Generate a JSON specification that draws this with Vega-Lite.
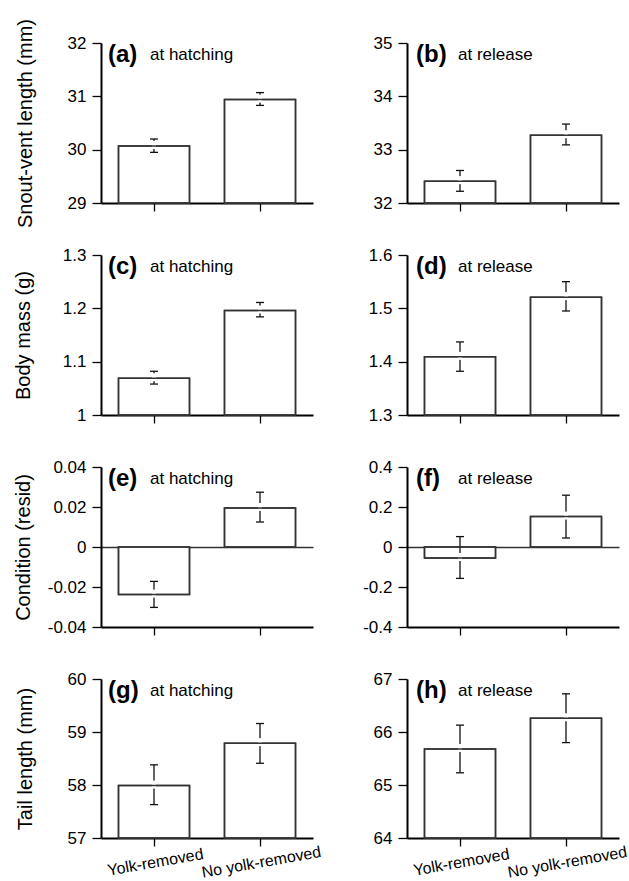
{
"$schema": "https://vega.github.io/schema/vega-lite/v6.json",
"padding": {"left": 13, "top": 18, "right": 3, "bottom": 0},
"background": "white",
"bounds": "flush",
"columns": 2,
"spacing": {"row": 52, "column": 94},
"datasets": {
 "bars": [
  {"panel": "a", "group": "Yolk-removed", "mean": 30.07, "lo": 29.95, "hi": 30.2},
  {"panel": "a", "group": "No yolk-removed", "mean": 30.94, "lo": 30.83, "hi": 31.07},
  {"panel": "b", "group": "Yolk-removed", "mean": 32.41, "lo": 32.22, "hi": 32.61},
  {"panel": "b", "group": "No yolk-removed", "mean": 33.27, "lo": 33.09, "hi": 33.48},
  {"panel": "c", "group": "Yolk-removed", "mean": 1.069, "lo": 1.058, "hi": 1.082},
  {"panel": "c", "group": "No yolk-removed", "mean": 1.196, "lo": 1.184, "hi": 1.211},
  {"panel": "d", "group": "Yolk-removed", "mean": 1.409, "lo": 1.382, "hi": 1.437},
  {"panel": "d", "group": "No yolk-removed", "mean": 1.521, "lo": 1.495, "hi": 1.55},
  {"panel": "e", "group": "Yolk-removed", "mean": -0.0238, "lo": -0.0302, "hi": -0.0172},
  {"panel": "e", "group": "No yolk-removed", "mean": 0.0195, "lo": 0.0125, "hi": 0.0274},
  {"panel": "f", "group": "Yolk-removed", "mean": -0.055, "lo": -0.157, "hi": 0.052},
  {"panel": "f", "group": "No yolk-removed", "mean": 0.152, "lo": 0.045, "hi": 0.259},
  {"panel": "g", "group": "Yolk-removed", "mean": 57.99, "lo": 57.63, "hi": 58.38},
  {"panel": "g", "group": "No yolk-removed", "mean": 58.79, "lo": 58.41, "hi": 59.16},
  {"panel": "h", "group": "Yolk-removed", "mean": 65.68, "lo": 65.23, "hi": 66.13},
  {"panel": "h", "group": "No yolk-removed", "mean": 66.26, "lo": 65.8, "hi": 66.72}
 ],
 "tags": [
  {"panel": "a", "tag": "(a)", "stage": "at hatching"},
  {"panel": "b", "tag": "(b)", "stage": "at release"},
  {"panel": "c", "tag": "(c)", "stage": "at hatching"},
  {"panel": "d", "tag": "(d)", "stage": "at release"},
  {"panel": "e", "tag": "(e)", "stage": "at hatching"},
  {"panel": "f", "tag": "(f)", "stage": "at release"},
  {"panel": "g", "tag": "(g)", "stage": "at hatching"},
  {"panel": "h", "tag": "(h)", "stage": "at release"}
 ]
},
"concat": [
 {"width": 212, "height": 160, "layer": [
  {"data": {"name": "bars"}, "transform": [{"filter": "datum.panel == 'a'"}], "mark": {"type": "bar", "fill": "#fff", "stroke": "#333", "strokeWidth": 1.5, "width": {"band": 0.67}},
   "encoding": {"x": {"field": "group", "type": "nominal", "scale": {"domain": ["Yolk-removed", "No yolk-removed"], "paddingInner": 0, "paddingOuter": 0}, "axis": {"labels": false, "title": null}},
    "y": {"field": "mean", "type": "quantitative", "scale": {"domain": [29, 32], "nice": false, "zero": false}, "axis": {"values": [29, 30, 31, 32], "format": "~g", "labelOverlap": false, "labelExpr": "replace(datum.label, '\u2212', '-')", "title": "Snout-vent length (mm)", "titlePadding": 32}},
    "y2": {"datum": 29}}},
  {"data": {"name": "bars"}, "transform": [{"filter": "datum.panel == 'a'"}], "mark": {"type": "rule", "color": "#111", "strokeWidth": 1.3}, "encoding": {"x": {"field": "group", "type": "nominal"}, "y": {"field": "lo", "type": "quantitative"}, "y2": {"field": "hi"}}},
  {"data": {"name": "bars"}, "transform": [{"filter": "datum.panel == 'a'"}], "mark": {"type": "tick", "orient": "horizontal", "color": "#111", "opacity": 1, "size": 8, "thickness": 1.3}, "encoding": {"x": {"field": "group", "type": "nominal"}, "y": {"field": "lo", "type": "quantitative"}}},
  {"data": {"name": "bars"}, "transform": [{"filter": "datum.panel == 'a'"}], "mark": {"type": "tick", "orient": "horizontal", "color": "#111", "opacity": 1, "size": 8, "thickness": 1.3}, "encoding": {"x": {"field": "group", "type": "nominal"}, "y": {"field": "hi", "type": "quantitative"}}},
  {"data": {"name": "bars"}, "transform": [{"filter": "datum.panel == 'a'"}], "mark": {"type": "tick", "orient": "horizontal", "color": "#fff", "opacity": 1, "size": 4, "thickness": 8, "yOffset": -1}, "encoding": {"x": {"field": "group", "type": "nominal"}, "y": {"field": "mean", "type": "quantitative"}}},
  {"data": {"name": "bars"}, "transform": [{"filter": "datum.panel == 'a'"}], "mark": {"type": "bar", "fillOpacity": 0, "stroke": "#333", "strokeWidth": 1.5, "width": {"band": 0.67}}, "encoding": {"x": {"field": "group", "type": "nominal"}, "y": {"field": "mean", "type": "quantitative"}, "y2": {"datum": 29}}},
  {"data": {"name": "tags"}, "transform": [{"filter": "datum.panel == 'a'"}], "mark": {"type": "text", "font": "Liberation Sans", "fontWeight": "bold", "fontSize": 24, "align": "left", "baseline": "middle", "dx": -46, "dy": 12, "color": "#000"}, "encoding": {"x": {"datum": "Yolk-removed", "type": "nominal"}, "y": {"datum": 32, "type": "quantitative"}, "text": {"field": "tag"}}},
  {"data": {"name": "tags"}, "transform": [{"filter": "datum.panel == 'a'"}], "mark": {"type": "text", "font": "Liberation Sans", "fontSize": 17, "align": "left", "baseline": "middle", "dx": -4, "dy": 12, "color": "#000"}, "encoding": {"x": {"datum": "Yolk-removed", "type": "nominal"}, "y": {"datum": 32, "type": "quantitative"}, "text": {"field": "stage"}}}
 ]},
 {"width": 212, "height": 160, "layer": [
  {"data": {"name": "bars"}, "transform": [{"filter": "datum.panel == 'b'"}], "mark": {"type": "bar", "fill": "#fff", "stroke": "#333", "strokeWidth": 1.5, "width": {"band": 0.67}},
   "encoding": {"x": {"field": "group", "type": "nominal", "scale": {"domain": ["Yolk-removed", "No yolk-removed"], "paddingInner": 0, "paddingOuter": 0}, "axis": {"labels": false, "title": null}},
    "y": {"field": "mean", "type": "quantitative", "scale": {"domain": [32, 35], "nice": false, "zero": false}, "axis": {"values": [32, 33, 34, 35], "format": "~g", "labelOverlap": false, "labelExpr": "replace(datum.label, '\u2212', '-')", "title": null}},
    "y2": {"datum": 32}}},
  {"data": {"name": "bars"}, "transform": [{"filter": "datum.panel == 'b'"}], "mark": {"type": "rule", "color": "#111", "strokeWidth": 1.3}, "encoding": {"x": {"field": "group", "type": "nominal"}, "y": {"field": "lo", "type": "quantitative"}, "y2": {"field": "hi"}}},
  {"data": {"name": "bars"}, "transform": [{"filter": "datum.panel == 'b'"}], "mark": {"type": "tick", "orient": "horizontal", "color": "#111", "opacity": 1, "size": 8, "thickness": 1.3}, "encoding": {"x": {"field": "group", "type": "nominal"}, "y": {"field": "lo", "type": "quantitative"}}},
  {"data": {"name": "bars"}, "transform": [{"filter": "datum.panel == 'b'"}], "mark": {"type": "tick", "orient": "horizontal", "color": "#111", "opacity": 1, "size": 8, "thickness": 1.3}, "encoding": {"x": {"field": "group", "type": "nominal"}, "y": {"field": "hi", "type": "quantitative"}}},
  {"data": {"name": "bars"}, "transform": [{"filter": "datum.panel == 'b'"}], "mark": {"type": "tick", "orient": "horizontal", "color": "#fff", "opacity": 1, "size": 4, "thickness": 8, "yOffset": -1}, "encoding": {"x": {"field": "group", "type": "nominal"}, "y": {"field": "mean", "type": "quantitative"}}},
  {"data": {"name": "bars"}, "transform": [{"filter": "datum.panel == 'b'"}], "mark": {"type": "bar", "fillOpacity": 0, "stroke": "#333", "strokeWidth": 1.5, "width": {"band": 0.67}}, "encoding": {"x": {"field": "group", "type": "nominal"}, "y": {"field": "mean", "type": "quantitative"}, "y2": {"datum": 32}}},
  {"data": {"name": "tags"}, "transform": [{"filter": "datum.panel == 'b'"}], "mark": {"type": "text", "font": "Liberation Sans", "fontWeight": "bold", "fontSize": 24, "align": "left", "baseline": "middle", "dx": -44, "dy": 12, "color": "#000"}, "encoding": {"x": {"datum": "Yolk-removed", "type": "nominal"}, "y": {"datum": 35, "type": "quantitative"}, "text": {"field": "tag"}}},
  {"data": {"name": "tags"}, "transform": [{"filter": "datum.panel == 'b'"}], "mark": {"type": "text", "font": "Liberation Sans", "fontSize": 17, "align": "left", "baseline": "middle", "dx": -2, "dy": 12, "color": "#000"}, "encoding": {"x": {"datum": "Yolk-removed", "type": "nominal"}, "y": {"datum": 35, "type": "quantitative"}, "text": {"field": "stage"}}}
 ]},
 {"width": 212, "height": 160, "layer": [
  {"data": {"name": "bars"}, "transform": [{"filter": "datum.panel == 'c'"}], "mark": {"type": "bar", "fill": "#fff", "stroke": "#333", "strokeWidth": 1.5, "width": {"band": 0.67}},
   "encoding": {"x": {"field": "group", "type": "nominal", "scale": {"domain": ["Yolk-removed", "No yolk-removed"], "paddingInner": 0, "paddingOuter": 0}, "axis": {"labels": false, "title": null}},
    "y": {"field": "mean", "type": "quantitative", "scale": {"domain": [1, 1.3], "nice": false, "zero": false}, "axis": {"values": [1, 1.1, 1.2, 1.3], "format": "~g", "labelOverlap": false, "labelExpr": "replace(datum.label, '\u2212', '-')", "title": "Body mass (g)", "titlePadding": 29}},
    "y2": {"datum": 1}}},
  {"data": {"name": "bars"}, "transform": [{"filter": "datum.panel == 'c'"}], "mark": {"type": "rule", "color": "#111", "strokeWidth": 1.3}, "encoding": {"x": {"field": "group", "type": "nominal"}, "y": {"field": "lo", "type": "quantitative"}, "y2": {"field": "hi"}}},
  {"data": {"name": "bars"}, "transform": [{"filter": "datum.panel == 'c'"}], "mark": {"type": "tick", "orient": "horizontal", "color": "#111", "opacity": 1, "size": 8, "thickness": 1.3}, "encoding": {"x": {"field": "group", "type": "nominal"}, "y": {"field": "lo", "type": "quantitative"}}},
  {"data": {"name": "bars"}, "transform": [{"filter": "datum.panel == 'c'"}], "mark": {"type": "tick", "orient": "horizontal", "color": "#111", "opacity": 1, "size": 8, "thickness": 1.3}, "encoding": {"x": {"field": "group", "type": "nominal"}, "y": {"field": "hi", "type": "quantitative"}}},
  {"data": {"name": "bars"}, "transform": [{"filter": "datum.panel == 'c'"}], "mark": {"type": "tick", "orient": "horizontal", "color": "#fff", "opacity": 1, "size": 4, "thickness": 8, "yOffset": -1}, "encoding": {"x": {"field": "group", "type": "nominal"}, "y": {"field": "mean", "type": "quantitative"}}},
  {"data": {"name": "bars"}, "transform": [{"filter": "datum.panel == 'c'"}], "mark": {"type": "bar", "fillOpacity": 0, "stroke": "#333", "strokeWidth": 1.5, "width": {"band": 0.67}}, "encoding": {"x": {"field": "group", "type": "nominal"}, "y": {"field": "mean", "type": "quantitative"}, "y2": {"datum": 1}}},
  {"data": {"name": "tags"}, "transform": [{"filter": "datum.panel == 'c'"}], "mark": {"type": "text", "font": "Liberation Sans", "fontWeight": "bold", "fontSize": 24, "align": "left", "baseline": "middle", "dx": -46, "dy": 12, "color": "#000"}, "encoding": {"x": {"datum": "Yolk-removed", "type": "nominal"}, "y": {"datum": 1.3, "type": "quantitative"}, "text": {"field": "tag"}}},
  {"data": {"name": "tags"}, "transform": [{"filter": "datum.panel == 'c'"}], "mark": {"type": "text", "font": "Liberation Sans", "fontSize": 17, "align": "left", "baseline": "middle", "dx": -4, "dy": 12, "color": "#000"}, "encoding": {"x": {"datum": "Yolk-removed", "type": "nominal"}, "y": {"datum": 1.3, "type": "quantitative"}, "text": {"field": "stage"}}}
 ]},
 {"width": 212, "height": 160, "layer": [
  {"data": {"name": "bars"}, "transform": [{"filter": "datum.panel == 'd'"}], "mark": {"type": "bar", "fill": "#fff", "stroke": "#333", "strokeWidth": 1.5, "width": {"band": 0.67}},
   "encoding": {"x": {"field": "group", "type": "nominal", "scale": {"domain": ["Yolk-removed", "No yolk-removed"], "paddingInner": 0, "paddingOuter": 0}, "axis": {"labels": false, "title": null}},
    "y": {"field": "mean", "type": "quantitative", "scale": {"domain": [1.3, 1.6], "nice": false, "zero": false}, "axis": {"values": [1.3, 1.4, 1.5, 1.6], "format": "~g", "labelOverlap": false, "labelExpr": "replace(datum.label, '\u2212', '-')", "title": null}},
    "y2": {"datum": 1.3}}},
  {"data": {"name": "bars"}, "transform": [{"filter": "datum.panel == 'd'"}], "mark": {"type": "rule", "color": "#111", "strokeWidth": 1.3}, "encoding": {"x": {"field": "group", "type": "nominal"}, "y": {"field": "lo", "type": "quantitative"}, "y2": {"field": "hi"}}},
  {"data": {"name": "bars"}, "transform": [{"filter": "datum.panel == 'd'"}], "mark": {"type": "tick", "orient": "horizontal", "color": "#111", "opacity": 1, "size": 8, "thickness": 1.3}, "encoding": {"x": {"field": "group", "type": "nominal"}, "y": {"field": "lo", "type": "quantitative"}}},
  {"data": {"name": "bars"}, "transform": [{"filter": "datum.panel == 'd'"}], "mark": {"type": "tick", "orient": "horizontal", "color": "#111", "opacity": 1, "size": 8, "thickness": 1.3}, "encoding": {"x": {"field": "group", "type": "nominal"}, "y": {"field": "hi", "type": "quantitative"}}},
  {"data": {"name": "bars"}, "transform": [{"filter": "datum.panel == 'd'"}], "mark": {"type": "tick", "orient": "horizontal", "color": "#fff", "opacity": 1, "size": 4, "thickness": 8, "yOffset": -1}, "encoding": {"x": {"field": "group", "type": "nominal"}, "y": {"field": "mean", "type": "quantitative"}}},
  {"data": {"name": "bars"}, "transform": [{"filter": "datum.panel == 'd'"}], "mark": {"type": "bar", "fillOpacity": 0, "stroke": "#333", "strokeWidth": 1.5, "width": {"band": 0.67}}, "encoding": {"x": {"field": "group", "type": "nominal"}, "y": {"field": "mean", "type": "quantitative"}, "y2": {"datum": 1.3}}},
  {"data": {"name": "tags"}, "transform": [{"filter": "datum.panel == 'd'"}], "mark": {"type": "text", "font": "Liberation Sans", "fontWeight": "bold", "fontSize": 24, "align": "left", "baseline": "middle", "dx": -44, "dy": 12, "color": "#000"}, "encoding": {"x": {"datum": "Yolk-removed", "type": "nominal"}, "y": {"datum": 1.6, "type": "quantitative"}, "text": {"field": "tag"}}},
  {"data": {"name": "tags"}, "transform": [{"filter": "datum.panel == 'd'"}], "mark": {"type": "text", "font": "Liberation Sans", "fontSize": 17, "align": "left", "baseline": "middle", "dx": -2, "dy": 12, "color": "#000"}, "encoding": {"x": {"datum": "Yolk-removed", "type": "nominal"}, "y": {"datum": 1.6, "type": "quantitative"}, "text": {"field": "stage"}}}
 ]},
 {"width": 212, "height": 160, "layer": [
  {"data": {"name": "bars"}, "transform": [{"filter": "datum.panel == 'e'"}], "mark": {"type": "bar", "fill": "#fff", "stroke": "#333", "strokeWidth": 1.5, "width": {"band": 0.67}},
   "encoding": {"x": {"field": "group", "type": "nominal", "scale": {"domain": ["Yolk-removed", "No yolk-removed"], "paddingInner": 0, "paddingOuter": 0}, "axis": {"labels": false, "title": null}},
    "y": {"field": "mean", "type": "quantitative", "scale": {"domain": [-0.04, 0.04], "nice": false, "zero": false}, "axis": {"values": [-0.04, -0.02, 0, 0.02, 0.04], "tickCount": 5, "format": "~g", "labelOverlap": false, "labelBound": false, "labelExpr": "replace(datum.label, '\u2212', '-')", "title": "Condition (resid)", "titlePadding": 14, "grid": true, "gridWidth": 1.3, "gridColor": {"condition": {"test": "datum.value === 0", "value": "#333"}, "value": "transparent"}}},
    "y2": {"datum": 0}}},
  {"data": {"name": "bars"}, "transform": [{"filter": "datum.panel == 'e'"}], "mark": {"type": "rule", "color": "#111", "strokeWidth": 1.3}, "encoding": {"x": {"field": "group", "type": "nominal"}, "y": {"field": "lo", "type": "quantitative"}, "y2": {"field": "hi"}}},
  {"data": {"name": "bars"}, "transform": [{"filter": "datum.panel == 'e'"}], "mark": {"type": "tick", "orient": "horizontal", "color": "#111", "opacity": 1, "size": 8, "thickness": 1.3}, "encoding": {"x": {"field": "group", "type": "nominal"}, "y": {"field": "lo", "type": "quantitative"}}},
  {"data": {"name": "bars"}, "transform": [{"filter": "datum.panel == 'e'"}], "mark": {"type": "tick", "orient": "horizontal", "color": "#111", "opacity": 1, "size": 8, "thickness": 1.3}, "encoding": {"x": {"field": "group", "type": "nominal"}, "y": {"field": "hi", "type": "quantitative"}}},
  {"data": {"name": "bars"}, "transform": [{"filter": "datum.panel == 'e'"}], "mark": {"type": "tick", "orient": "horizontal", "color": "#fff", "opacity": 1, "size": 4, "thickness": 8, "yOffset": -1}, "encoding": {"x": {"field": "group", "type": "nominal"}, "y": {"field": "mean", "type": "quantitative"}}},
  {"data": {"name": "bars"}, "transform": [{"filter": "datum.panel == 'e'"}], "mark": {"type": "bar", "fillOpacity": 0, "stroke": "#333", "strokeWidth": 1.5, "width": {"band": 0.67}}, "encoding": {"x": {"field": "group", "type": "nominal"}, "y": {"field": "mean", "type": "quantitative"}, "y2": {"datum": 0}}},
  {"data": {"name": "tags"}, "transform": [{"filter": "datum.panel == 'e'"}], "mark": {"type": "text", "font": "Liberation Sans", "fontWeight": "bold", "fontSize": 24, "align": "left", "baseline": "middle", "dx": -46, "dy": 12, "color": "#000"}, "encoding": {"x": {"datum": "Yolk-removed", "type": "nominal"}, "y": {"datum": 0.04, "type": "quantitative"}, "text": {"field": "tag"}}},
  {"data": {"name": "tags"}, "transform": [{"filter": "datum.panel == 'e'"}], "mark": {"type": "text", "font": "Liberation Sans", "fontSize": 17, "align": "left", "baseline": "middle", "dx": -4, "dy": 12, "color": "#000"}, "encoding": {"x": {"datum": "Yolk-removed", "type": "nominal"}, "y": {"datum": 0.04, "type": "quantitative"}, "text": {"field": "stage"}}}
 ]},
 {"width": 212, "height": 160, "layer": [
  {"data": {"name": "bars"}, "transform": [{"filter": "datum.panel == 'f'"}], "mark": {"type": "bar", "fill": "#fff", "stroke": "#333", "strokeWidth": 1.5, "width": {"band": 0.67}},
   "encoding": {"x": {"field": "group", "type": "nominal", "scale": {"domain": ["Yolk-removed", "No yolk-removed"], "paddingInner": 0, "paddingOuter": 0}, "axis": {"labels": false, "title": null}},
    "y": {"field": "mean", "type": "quantitative", "scale": {"domain": [-0.4, 0.4], "nice": false, "zero": false}, "axis": {"values": [-0.4, -0.2, 0, 0.2, 0.4], "tickCount": 5, "format": "~g", "labelOverlap": false, "labelBound": false, "labelExpr": "replace(datum.label, '\u2212', '-')", "title": null, "grid": true, "gridWidth": 1.3, "gridColor": {"condition": {"test": "datum.value === 0", "value": "#333"}, "value": "transparent"}}},
    "y2": {"datum": 0}}},
  {"data": {"name": "bars"}, "transform": [{"filter": "datum.panel == 'f'"}], "mark": {"type": "rule", "color": "#111", "strokeWidth": 1.3}, "encoding": {"x": {"field": "group", "type": "nominal"}, "y": {"field": "lo", "type": "quantitative"}, "y2": {"field": "hi"}}},
  {"data": {"name": "bars"}, "transform": [{"filter": "datum.panel == 'f'"}], "mark": {"type": "tick", "orient": "horizontal", "color": "#111", "opacity": 1, "size": 8, "thickness": 1.3}, "encoding": {"x": {"field": "group", "type": "nominal"}, "y": {"field": "lo", "type": "quantitative"}}},
  {"data": {"name": "bars"}, "transform": [{"filter": "datum.panel == 'f'"}], "mark": {"type": "tick", "orient": "horizontal", "color": "#111", "opacity": 1, "size": 8, "thickness": 1.3}, "encoding": {"x": {"field": "group", "type": "nominal"}, "y": {"field": "hi", "type": "quantitative"}}},
  {"data": {"name": "bars"}, "transform": [{"filter": "datum.panel == 'f'"}], "mark": {"type": "tick", "orient": "horizontal", "color": "#fff", "opacity": 1, "size": 4, "thickness": 8, "yOffset": -1}, "encoding": {"x": {"field": "group", "type": "nominal"}, "y": {"field": "mean", "type": "quantitative"}}},
  {"data": {"name": "bars"}, "transform": [{"filter": "datum.panel == 'f'"}], "mark": {"type": "bar", "fillOpacity": 0, "stroke": "#333", "strokeWidth": 1.5, "width": {"band": 0.67}}, "encoding": {"x": {"field": "group", "type": "nominal"}, "y": {"field": "mean", "type": "quantitative"}, "y2": {"datum": 0}}},
  {"data": {"name": "tags"}, "transform": [{"filter": "datum.panel == 'f'"}], "mark": {"type": "text", "font": "Liberation Sans", "fontWeight": "bold", "fontSize": 24, "align": "left", "baseline": "middle", "dx": -44, "dy": 12, "color": "#000"}, "encoding": {"x": {"datum": "Yolk-removed", "type": "nominal"}, "y": {"datum": 0.4, "type": "quantitative"}, "text": {"field": "tag"}}},
  {"data": {"name": "tags"}, "transform": [{"filter": "datum.panel == 'f'"}], "mark": {"type": "text", "font": "Liberation Sans", "fontSize": 17, "align": "left", "baseline": "middle", "dx": -2, "dy": 12, "color": "#000"}, "encoding": {"x": {"datum": "Yolk-removed", "type": "nominal"}, "y": {"datum": 0.4, "type": "quantitative"}, "text": {"field": "stage"}}}
 ]},
 {"width": 212, "height": 159, "layer": [
  {"data": {"name": "bars"}, "transform": [{"filter": "datum.panel == 'g'"}], "mark": {"type": "bar", "fill": "#fff", "stroke": "#333", "strokeWidth": 1.5, "width": {"band": 0.67}},
   "encoding": {"x": {"field": "group", "type": "nominal", "scale": {"domain": ["Yolk-removed", "No yolk-removed"], "paddingInner": 0, "paddingOuter": 0}, "axis": {"title": null, "labelAngle": -10, "labelAlign": "center", "labelBaseline": "top", "labelFontSize": 16, "labelPadding": 8}},
    "y": {"field": "mean", "type": "quantitative", "scale": {"domain": [57, 60], "nice": false, "zero": false}, "axis": {"values": [57, 58, 59, 60], "format": "~g", "labelOverlap": false, "labelExpr": "replace(datum.label, '\u2212', '-')", "title": "Tail length (mm)", "titlePadding": 32}},
    "y2": {"datum": 57}}},
  {"data": {"name": "bars"}, "transform": [{"filter": "datum.panel == 'g'"}], "mark": {"type": "rule", "color": "#111", "strokeWidth": 1.3}, "encoding": {"x": {"field": "group", "type": "nominal"}, "y": {"field": "lo", "type": "quantitative"}, "y2": {"field": "hi"}}},
  {"data": {"name": "bars"}, "transform": [{"filter": "datum.panel == 'g'"}], "mark": {"type": "tick", "orient": "horizontal", "color": "#111", "opacity": 1, "size": 8, "thickness": 1.3}, "encoding": {"x": {"field": "group", "type": "nominal"}, "y": {"field": "lo", "type": "quantitative"}}},
  {"data": {"name": "bars"}, "transform": [{"filter": "datum.panel == 'g'"}], "mark": {"type": "tick", "orient": "horizontal", "color": "#111", "opacity": 1, "size": 8, "thickness": 1.3}, "encoding": {"x": {"field": "group", "type": "nominal"}, "y": {"field": "hi", "type": "quantitative"}}},
  {"data": {"name": "bars"}, "transform": [{"filter": "datum.panel == 'g'"}], "mark": {"type": "tick", "orient": "horizontal", "color": "#fff", "opacity": 1, "size": 4, "thickness": 8, "yOffset": -1}, "encoding": {"x": {"field": "group", "type": "nominal"}, "y": {"field": "mean", "type": "quantitative"}}},
  {"data": {"name": "bars"}, "transform": [{"filter": "datum.panel == 'g'"}], "mark": {"type": "bar", "fillOpacity": 0, "stroke": "#333", "strokeWidth": 1.5, "width": {"band": 0.67}}, "encoding": {"x": {"field": "group", "type": "nominal"}, "y": {"field": "mean", "type": "quantitative"}, "y2": {"datum": 57}}},
  {"data": {"name": "tags"}, "transform": [{"filter": "datum.panel == 'g'"}], "mark": {"type": "text", "font": "Liberation Sans", "fontWeight": "bold", "fontSize": 24, "align": "left", "baseline": "middle", "dx": -46, "dy": 12, "color": "#000"}, "encoding": {"x": {"datum": "Yolk-removed", "type": "nominal"}, "y": {"datum": 60, "type": "quantitative"}, "text": {"field": "tag"}}},
  {"data": {"name": "tags"}, "transform": [{"filter": "datum.panel == 'g'"}], "mark": {"type": "text", "font": "Liberation Sans", "fontSize": 17, "align": "left", "baseline": "middle", "dx": -4, "dy": 12, "color": "#000"}, "encoding": {"x": {"datum": "Yolk-removed", "type": "nominal"}, "y": {"datum": 60, "type": "quantitative"}, "text": {"field": "stage"}}}
 ]},
 {"width": 212, "height": 159, "layer": [
  {"data": {"name": "bars"}, "transform": [{"filter": "datum.panel == 'h'"}], "mark": {"type": "bar", "fill": "#fff", "stroke": "#333", "strokeWidth": 1.5, "width": {"band": 0.67}},
   "encoding": {"x": {"field": "group", "type": "nominal", "scale": {"domain": ["Yolk-removed", "No yolk-removed"], "paddingInner": 0, "paddingOuter": 0}, "axis": {"title": null, "labelAngle": -10, "labelAlign": "center", "labelBaseline": "top", "labelFontSize": 16, "labelPadding": 8}},
    "y": {"field": "mean", "type": "quantitative", "scale": {"domain": [64, 67], "nice": false, "zero": false}, "axis": {"values": [64, 65, 66, 67], "format": "~g", "labelOverlap": false, "labelExpr": "replace(datum.label, '\u2212', '-')", "title": null}},
    "y2": {"datum": 64}}},
  {"data": {"name": "bars"}, "transform": [{"filter": "datum.panel == 'h'"}], "mark": {"type": "rule", "color": "#111", "strokeWidth": 1.3}, "encoding": {"x": {"field": "group", "type": "nominal"}, "y": {"field": "lo", "type": "quantitative"}, "y2": {"field": "hi"}}},
  {"data": {"name": "bars"}, "transform": [{"filter": "datum.panel == 'h'"}], "mark": {"type": "tick", "orient": "horizontal", "color": "#111", "opacity": 1, "size": 8, "thickness": 1.3}, "encoding": {"x": {"field": "group", "type": "nominal"}, "y": {"field": "lo", "type": "quantitative"}}},
  {"data": {"name": "bars"}, "transform": [{"filter": "datum.panel == 'h'"}], "mark": {"type": "tick", "orient": "horizontal", "color": "#111", "opacity": 1, "size": 8, "thickness": 1.3}, "encoding": {"x": {"field": "group", "type": "nominal"}, "y": {"field": "hi", "type": "quantitative"}}},
  {"data": {"name": "bars"}, "transform": [{"filter": "datum.panel == 'h'"}], "mark": {"type": "tick", "orient": "horizontal", "color": "#fff", "opacity": 1, "size": 4, "thickness": 8, "yOffset": -1}, "encoding": {"x": {"field": "group", "type": "nominal"}, "y": {"field": "mean", "type": "quantitative"}}},
  {"data": {"name": "bars"}, "transform": [{"filter": "datum.panel == 'h'"}], "mark": {"type": "bar", "fillOpacity": 0, "stroke": "#333", "strokeWidth": 1.5, "width": {"band": 0.67}}, "encoding": {"x": {"field": "group", "type": "nominal"}, "y": {"field": "mean", "type": "quantitative"}, "y2": {"datum": 64}}},
  {"data": {"name": "tags"}, "transform": [{"filter": "datum.panel == 'h'"}], "mark": {"type": "text", "font": "Liberation Sans", "fontWeight": "bold", "fontSize": 24, "align": "left", "baseline": "middle", "dx": -44, "dy": 12, "color": "#000"}, "encoding": {"x": {"datum": "Yolk-removed", "type": "nominal"}, "y": {"datum": 67, "type": "quantitative"}, "text": {"field": "tag"}}},
  {"data": {"name": "tags"}, "transform": [{"filter": "datum.panel == 'h'"}], "mark": {"type": "text", "font": "Liberation Sans", "fontSize": 17, "align": "left", "baseline": "middle", "dx": -2, "dy": 12, "color": "#000"}, "encoding": {"x": {"datum": "Yolk-removed", "type": "nominal"}, "y": {"datum": 67, "type": "quantitative"}, "text": {"field": "stage"}}}
 ]}
],
"config": {
 "view": {"stroke": null},
 "axis": {"grid": false, "domainColor": "#000", "domainWidth": 2, "tickColor": "#000", "tickWidth": 1.3, "labelFont": "Liberation Sans", "labelFontSize": 17, "labelColor": "#000", "labelOverlap": false, "titleFont": "Liberation Sans", "titleFontSize": 20, "titleFontWeight": "normal", "titleColor": "#000"},
 "axisY": {"tickSize": 9, "labelPadding": 6},
 "axisX": {"tickSize": 8, "labelPadding": 5}
}
}
